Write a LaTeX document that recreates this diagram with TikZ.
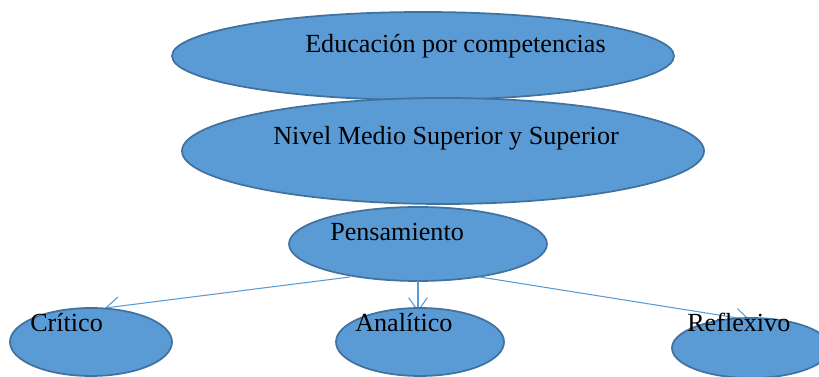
\documentclass[tikz,border=0pt]{standalone}
\usepackage{fontspec}
\setmainfont{Liberation Serif}
\usetikzlibrary{shapes.geometric,arrows.meta}
\definecolor{fillblue}{HTML}{5B9BD5}
\definecolor{edgeblue}{HTML}{41719C}
\tikzset{
  oval/.style={ellipse, draw=edgeblue, fill=fillblue, line width=1.3pt, inner sep=0pt},
  lbl/.style={anchor=base west, inner sep=0pt, font=\fontsize{19.6}{22}\selectfont, text=black},
  conn/.style={draw=fillblue, line width=0.8pt, -{Straight Barb[length=10pt,width=14pt]}}
}
\begin{document}
\begin{tikzpicture}[x=0.75pt,y=-0.75pt]
\useasboundingbox (0,0) rectangle (819,377);
\clip (0,0) rectangle (819,377);
\node[oval, minimum width=502*0.75pt, minimum height=88*0.75pt] (edu) at (423,56) {};
\node[oval, minimum width=522*0.75pt, minimum height=106*0.75pt] (niv) at (443,151) {};
\node[oval, minimum width=258*0.75pt, minimum height=74*0.75pt] (pen) at (418,244) {};
\coordinate (p1) at (350,277);
\coordinate (p2) at (418,281);
\coordinate (p3) at (480,277);
\coordinate (c1) at (105,308);
\coordinate (c2) at (418,312);
\coordinate (c3) at (750,320);
\draw[conn] (p1) -- (c1);
\draw[conn] (p2) -- (c2);
\draw[conn] (p3) -- (c3);
\node[oval, minimum width=162*0.75pt, minimum height=68*0.75pt] (cri) at (91,342) {};
\node[oval, minimum width=168*0.75pt, minimum height=68*0.75pt] (ana) at (420,342) {};
\node[oval, minimum width=158*0.75pt, minimum height=60*0.75pt] (ref) at (751,348) {};
\node[lbl] (t1) at (305,53) {Educación por competencias};
\node[lbl] (t2) at (273,145) {Nivel Medio Superior y Superior};
\node[lbl] (t3) at (330,241) {Pensamiento};
\node[lbl] (t4) at (30,332) {Crítico};
\node[lbl] (t5) at (355,332) {Analítico};
\node[lbl] (t6) at (687,332) {Reflexivo};
\end{tikzpicture}
\end{document}
